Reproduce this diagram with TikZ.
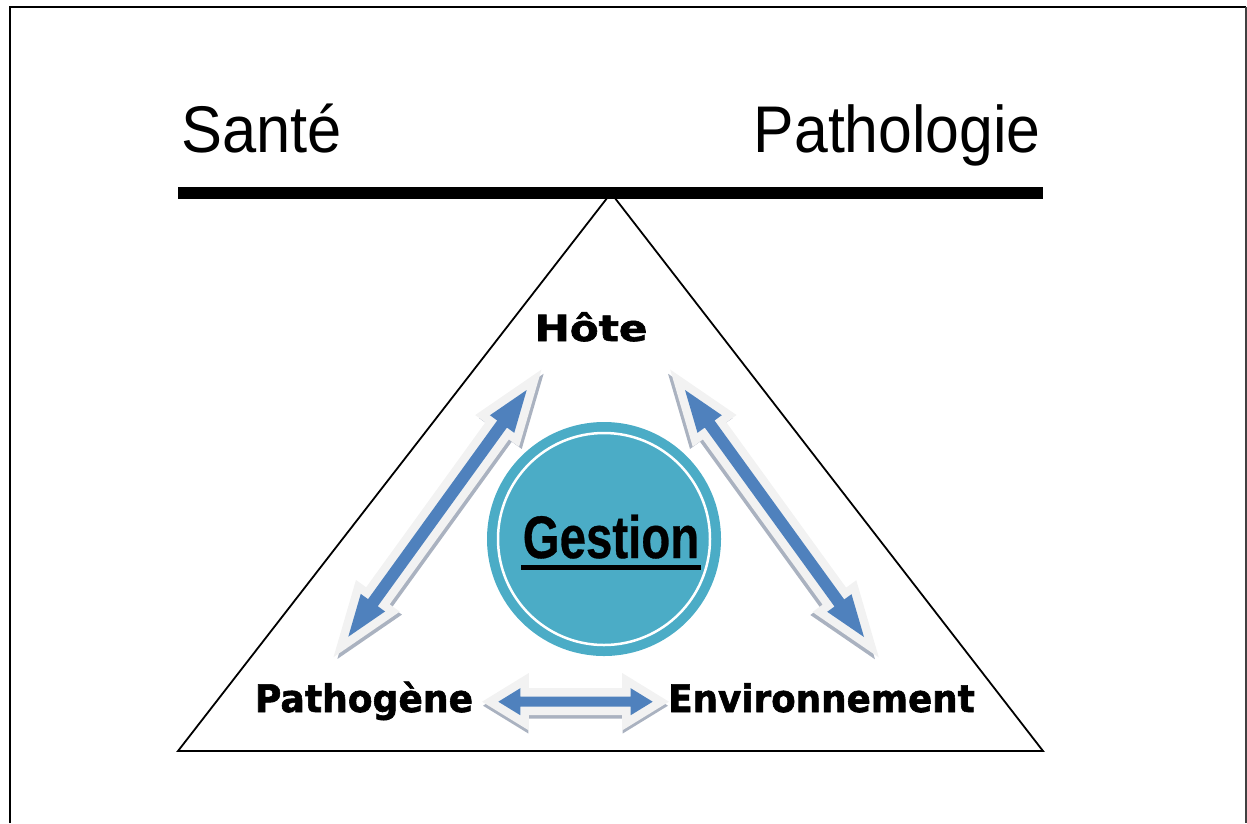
\documentclass[tikz,border=0pt]{standalone}
\usepackage{fontspec}
\setmainfont{Liberation Sans}[BoldFeatures={FakeBold=0.6}]
\newfontfamily\heavyfont{DejaVu Sans}[BoldFeatures={FakeBold=1.6}]
\usetikzlibrary{calc}
\definecolor{arrowblue}{RGB}{79,129,189}
\definecolor{arrowedge}{RGB}{242,242,242}
\definecolor{arrowshadow}{RGB}{170,178,192}
\definecolor{gestionteal}{RGB}{75,172,198}

% #1 prefix, #2 from, #3 to, #4 head length, #5 half head width, #6 half shaft width
\newcommand\defblockarrow[6]{%
  \coordinate (#1q1) at ($(#2)!#4!(#3)$);
  \coordinate (#1q2) at ($(#3)!#4!(#2)$);
  \coordinate (#1a) at ($(#1q1)!#5!90:(#3)$);
  \coordinate (#1b) at ($(#1q1)!#6!90:(#3)$);
  \coordinate (#1c) at ($(#1q2)!#6!-90:(#2)$);
  \coordinate (#1d) at ($(#1q2)!#5!-90:(#2)$);
  \coordinate (#1e) at ($(#1q2)!#5!90:(#2)$);
  \coordinate (#1f) at ($(#1q2)!#6!90:(#2)$);
  \coordinate (#1g) at ($(#1q1)!#6!-90:(#3)$);
  \coordinate (#1h) at ($(#1q1)!#5!-90:(#3)$);
}
% #1 prefix, #2 from, #3 to, #4 options
\newcommand\drawblockarrow[4]{%
  \path[#4] (#2) -- (#1a) -- (#1b) -- (#1c) -- (#1d) -- (#3) -- (#1e) -- (#1f) -- (#1g) -- (#1h) -- cycle;
}
% #1 prefix, #2 from, #3 to, #4 shadow offset
\newcommand\blockarrow[4]{%
  \begin{scope}[transform canvas={shift={#4}}]
    \drawblockarrow{#1}{#2}{#3}{arrowshadowstyle}
  \end{scope}
  \drawblockarrow{#1}{#2}{#3}{arrowedgestyle}
  \drawblockarrow{#1}{#2}{#3}{arrowbodystyle}
}

\begin{document}
\begin{tikzpicture}[x=1pt,y=-1pt,
  bigword/.style={inner sep=0pt, font=\fontsize{66}{72}\selectfont},
  heavyword/.style={inner sep=0pt, font=\heavyfont\bfseries\fontsize{38}{44}\selectfont},
  gestionword/.style={inner sep=0pt, font=\bfseries\fontsize{60}{64}\selectfont},
  arrowshadowstyle/.style={draw=arrowshadow, fill=arrowshadow, line width=16pt, line join=miter},
  arrowedgestyle/.style={draw=arrowedge, fill=arrowedge, line width=17pt, line join=miter},
  arrowbodystyle/.style={fill=arrowblue},
  frame/.style={line width=2pt, draw=black}]
\useasboundingbox (0,0) rectangle (1247,823);

% frame (open at the bottom)
\draw[frame] (9.5,823) -- (9.5,7) -- (1246,7);
\draw[frame, draw=black!75] (1246,7) -- (1246,823);

% triangle and balance bar
\coordinate (apex) at (611,193);
\coordinate (baseL) at (178,751);
\coordinate (baseR) at (1043,751);
\draw[line width=1.8pt, line join=miter] (apex) -- (baseL) -- (baseR) -- cycle;
\fill[black] (178,187) rectangle (1043,198.5);

% top words
\node[bigword, anchor=base west] (sante) at (181,152) {\scalebox{0.93}[1]{Santé}};
\node[bigword, anchor=base east] (patho) at (1041,152) {\scalebox{0.92}[1]{Pathologie}};

% corner words
\node[heavyword, anchor=base, font=\heavyfont\bfseries\fontsize{36}{40}\selectfont] (hote) at (591,341) {\scalebox{1.17}[1]{Hôte}};
\node[heavyword, anchor=base] (pathogene) at (364,712) {\scalebox{0.95}[1]{Pathogène}};
\node[heavyword, anchor=base] (env) at (821.5,712) {\scalebox{0.94}[1]{Environnement}};

% central disc
\node[circle, fill=gestionteal, minimum size=234pt, inner sep=0pt] (disc) at (604,539) {};
\draw[white, line width=2.5pt] (disc.center) circle[radius=106pt];
\node[gestionword, anchor=base] (gestion) at (611,558) {\scalebox{0.79}[1]{Gestion}};
\draw[line width=5pt] (521,567) -- (701,567);

% block arrows
\coordinate (la1) at (526.7,390);
\coordinate (la2) at (348.3,636.7);
\coordinate (ra1) at (685,390);
\coordinate (ra2) at (864,637);
\coordinate (ba1) at (498.3,701.7);
\coordinate (ba2) at (652.7,701.7);
\defblockarrow{L}{la1}{la2}{42pt}{15pt}{6pt}
\defblockarrow{R}{ra1}{ra2}{42pt}{15pt}{6pt}
\defblockarrow{B}{ba1}{ba2}{22pt}{13.5pt}{5pt}
\blockarrow{L}{la1}{la2}{(3,3)}
\blockarrow{R}{ra1}{ra2}{(-3,3)}
\blockarrow{B}{ba1}{ba2}{(0,4)}
\end{tikzpicture}
\end{document}
